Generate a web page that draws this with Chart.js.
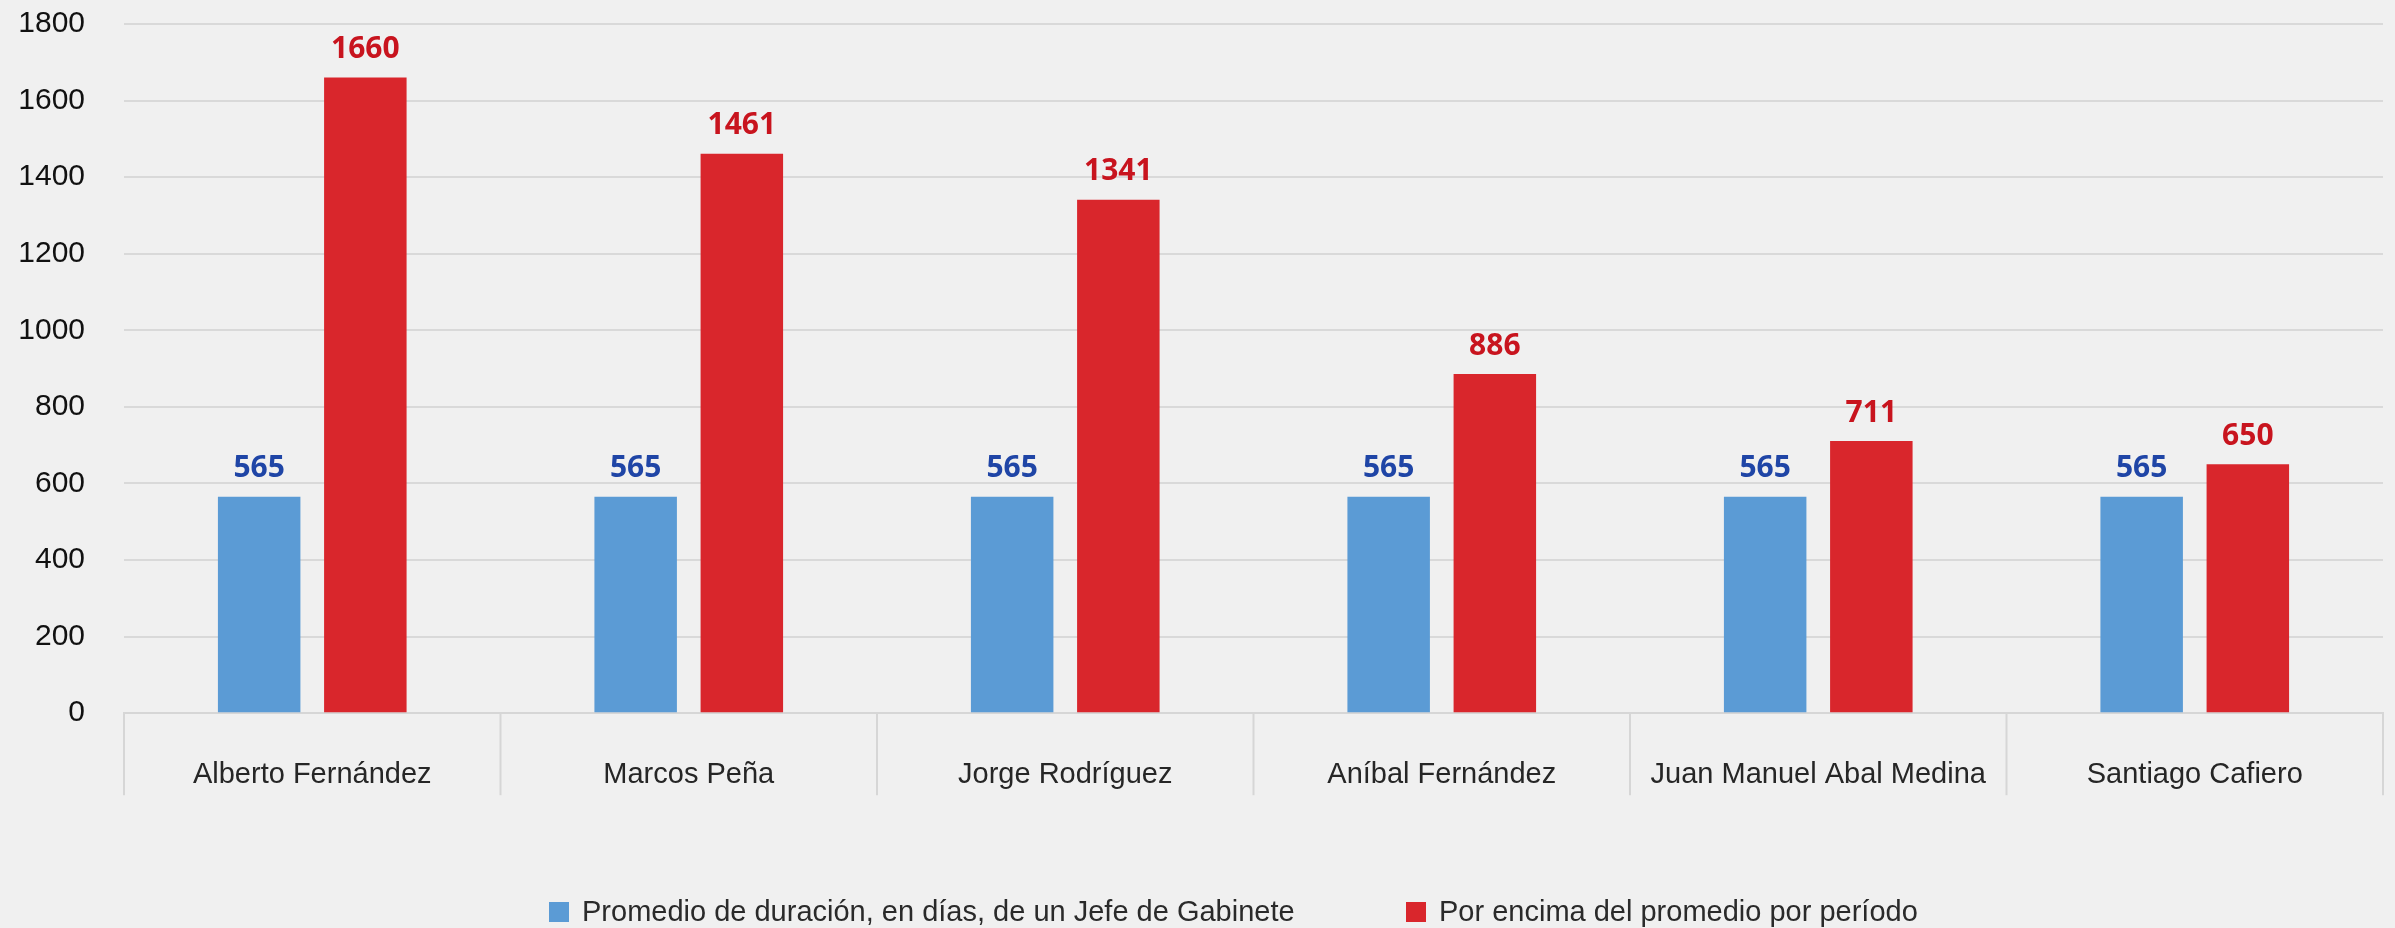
<!DOCTYPE html>
<html>
<head>
<meta charset="utf-8">
<script src="https://cdn.jsdelivr.net/npm/chart.js@4.4.1/dist/chart.umd.min.js"></script>
<style>
  html, body { margin: 0; padding: 0; background: #f0f0f0; }
  #wrap { position: relative; width: 2395px; height: 928px; }
  #legend {
    position: absolute; left: 0; top: 895px; width: 2395px; height: 34px;
    font-family: "Liberation Sans", Arial, sans-serif; font-size: 29px; color: #2a2a2a;
  }
  #legend .item { position: absolute; top: 0; display: flex; align-items: center; white-space: nowrap; }
  #legend .box { width: 20px; height: 20px; margin-right: 13px; }
</style>
</head>
<body>
<div id="wrap">
  <canvas id="chart" width="2395" height="928"></canvas>
  <div id="legend"></div>
</div>
<script>
var categories = ["Alberto Fernández", "Marcos Peña", "Jorge Rodríguez", "Aníbal Fernández", "Juan Manuel Abal Medina", "Santiago Cafiero"];
var promedio = [565, 565, 565, 565, 565, 565];
var porEncima = [1660, 1461, 1341, 886, 711, 650];
var seriesNames = ["Promedio de duración, en días, de un Jefe de Gabinete", "Por encima del promedio por período"];
var barColors = ["#5b9bd5", "#d9262c"];
var labelColors = ["#1f45a6", "#c8141e"];
var legendLeft = [549, 1406];

// numbers above each bar
var valueLabels = {
  id: "valueLabels",
  afterDatasetsDraw: function (chart) {
    var ctx = chart.ctx;
    ctx.save();
    ctx.font = "bold 30px 'Open Sans'";
    ctx.textAlign = "center";
    ctx.textBaseline = "middle";
    chart.data.datasets.forEach(function (ds, i) {
      ctx.fillStyle = labelColors[i];
      chart.getDatasetMeta(i).data.forEach(function (bar, j) {
        ctx.fillText(ds.data[j], bar.x, bar.y - 28);
      });
    });
    ctx.restore();
  }
};

// separators between categories, running down below the axis
var categoryLines = {
  id: "categoryLines",
  afterDraw: function (chart) {
    var x = chart.scales.x;
    var ctx = chart.ctx;
    var top = chart.chartArea.bottom;
    ctx.save();
    ctx.strokeStyle = "#d6d6d6";
    ctx.lineWidth = 2;
    for (var i = 0; i <= categories.length; i++) {
      var px;
      if (i === 0) px = x.left;
      else if (i === categories.length) px = x.right;
      else px = (x.getPixelForTick(i - 1) + x.getPixelForTick(i)) / 2;
      ctx.beginPath();
      ctx.moveTo(px, top);
      ctx.lineTo(px, top + 82);
      ctx.stroke();
    }
    ctx.restore();
  }
};

var ctx = document.getElementById("chart").getContext("2d");
var chart = new Chart(ctx, {
  type: "bar",
  data: {
    labels: categories,
    datasets: [
      { label: seriesNames[0], data: promedio, backgroundColor: barColors[0] },
      { label: seriesNames[1], data: porEncima, backgroundColor: barColors[1] }
    ]
  },
  options: {
    responsive: false,
    animation: false,
    categoryPercentage: 0.564,
    barPercentage: 0.777,
    layout: { padding: { top: 24, right: 12, bottom: 100, left: 18 } },
    scales: {
      x: {
        grid: { display: false },
        border: { color: "#d6d6d6", width: 2 },
        ticks: { padding: 36, color: "#262626", font: { family: "Liberation Sans", size: 29 } }
      },
      y: {
        min: 0,
        max: 1800,
        afterFit: function (scale) {
          scale.width = 106;
          scale.paddingTop = 0;
          scale.paddingBottom = 0;
        },
        ticks: {
          stepSize: 200, padding: 39, color: "#111",
          font: { family: "Liberation Sans", size: 30 },
          callback: function (v) { return String(v); }
        },
        grid: { color: "#d9d9d9", lineWidth: 2, drawTicks: false },
        border: { display: false }
      }
    },
    plugins: {
      legend: { display: false },
      tooltip: { enabled: false }
    }
  },
  plugins: [valueLabels, categoryLines]
});

var legend = document.getElementById("legend");
seriesNames.forEach(function (name, i) {
  var item = document.createElement("div");
  item.className = "item";
  item.style.left = legendLeft[i] + "px";
  var box = document.createElement("span");
  box.className = "box";
  box.style.background = barColors[i];
  var txt = document.createElement("span");
  txt.textContent = name;
  item.appendChild(box);
  item.appendChild(txt);
  legend.appendChild(item);
});
</script>
</body>
</html>
